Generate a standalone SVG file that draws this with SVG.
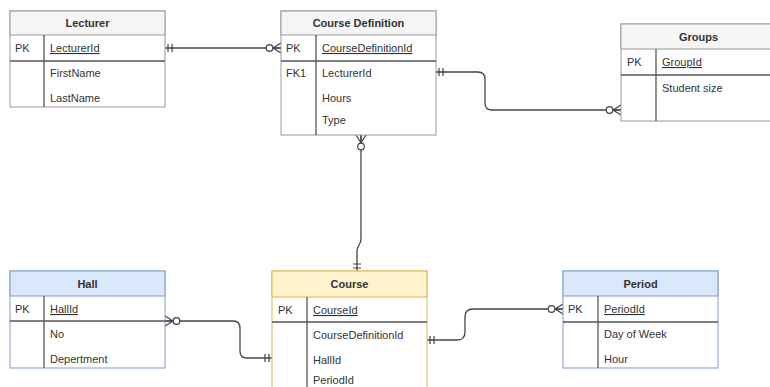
<svg xmlns="http://www.w3.org/2000/svg" width="770" height="387" viewBox="0 0 770 387">
<style>
text{font-family:"Liberation Sans",Arial,sans-serif;font-size:11px;fill:#333}
.h{font-weight:bold;text-anchor:middle}
.u{text-decoration:underline}
.box{fill:#fff;stroke:#999;stroke-width:1}
.hd{fill:#f5f5f5;stroke:#999;stroke-width:1}
.bbox{fill:#fff;stroke:#7f9cc8;stroke-width:1}
.bhd{fill:#dae8fc;stroke:#7f9cc8;stroke-width:1}
.ybox{fill:#fff;stroke:#d6b656;stroke-width:1}
.yhd{fill:#fff2cc;stroke:#d6b656;stroke-width:1}
.sep{stroke:#555;stroke-width:1.3;fill:none}
.div{stroke:#555;stroke-width:1.3;fill:none}
.c{fill:none;stroke:#444;stroke-width:1.3}
</style>
<defs>
<marker id="one" viewBox="0 0 20 12" refX="20" refY="6" markerWidth="20" markerHeight="12" markerUnits="userSpaceOnUse" orient="auto-start-reverse">
<path d="M13,2 V10 M17,2 V10" stroke="#444" stroke-width="1.2" fill="none"/>
</marker>
<marker id="zmany" viewBox="0 0 20 12" refX="20" refY="6" markerWidth="20" markerHeight="12" markerUnits="userSpaceOnUse" orient="auto-start-reverse">
<path d="M12,6 L20,1 M12,6 L20,11 M12,6 H20" stroke="#444" stroke-width="1.2" fill="none"/>
<circle cx="8.5" cy="6" r="3.3" fill="#fff" stroke="#444" stroke-width="1.2"/>
</marker>
</defs>
<g id="connectors">
<path class="c" d="M165,48 H281" marker-start="url(#one)" marker-end="url(#zmany)"/>
<path class="c" d="M436,72 H478 Q485,72 485,79 V103 Q485,110 492,110 H621" marker-start="url(#one)" marker-end="url(#zmany)"/>
<path class="c" d="M361,135 V239 Q361,242 359,245 Q357,248 357,251 V271" marker-start="url(#zmany)" marker-end="url(#one)"/>
<path class="c" d="M165,321 H233 Q240,321 240,328 V351 Q240,358 247,358 H272" marker-start="url(#zmany)" marker-end="url(#one)"/>
<path class="c" d="M427,340 H457 Q465,340 465,332 V317 Q465,309 473,309 H563" marker-start="url(#one)" marker-end="url(#zmany)"/>
</g>
<g id="lecturer">
<rect class="box" x="10" y="11" width="155" height="96"/>
<rect class="hd" x="10" y="11" width="155" height="24"/>
<line class="sep" x1="10" y1="61" x2="165" y2="61"/>
<line class="div" x1="44" y1="35" x2="44" y2="107"/>
<text class="h" x="87.5" y="27">Lecturer</text>
<text x="15" y="52">PK</text>
<text class="u" x="50" y="52">LecturerId</text>
<text x="50" y="77">FirstName</text>
<text x="50" y="102">LastName</text>
</g>
<g id="course-definition">
<rect class="box" x="281" y="11" width="155" height="124"/>
<rect class="hd" x="281" y="11" width="155" height="24"/>
<line class="sep" x1="281" y1="61" x2="436" y2="61"/>
<line class="div" x1="316" y1="35" x2="316" y2="135"/>
<text class="h" x="358.5" y="27">Course Definition</text>
<text x="286" y="52">PK</text>
<text class="u" x="322" y="52">CourseDefinitionId</text>
<text x="286" y="77">FK1</text>
<text x="322" y="77">LecturerId</text>
<text x="322" y="102">Hours</text>
<text x="322" y="124">Type</text>
</g>
<g id="groups">
<rect class="box" x="621" y="24" width="155" height="97"/>
<rect class="hd" x="621" y="24" width="155" height="25"/>
<line class="sep" x1="621" y1="75" x2="776" y2="75"/>
<line class="div" x1="656" y1="49" x2="656" y2="121"/>
<text class="h" x="698.5" y="41">Groups</text>
<text x="627" y="66">PK</text>
<text class="u" x="662" y="66">GroupId</text>
<text x="662" y="92">Student size</text>
</g>
<g id="hall">
<rect class="bbox" x="10" y="271" width="155" height="97"/>
<rect class="bhd" x="10" y="271" width="155" height="25"/>
<line class="sep" x1="10" y1="321" x2="165" y2="321"/>
<line class="div" x1="44" y1="296" x2="44" y2="368"/>
<text class="h" x="87.5" y="288">Hall</text>
<text x="15" y="313">PK</text>
<text class="u" x="50" y="313">HallId</text>
<text x="50" y="338">No</text>
<text x="50" y="363">Depertment</text>
</g>
<g id="course">
<rect class="ybox" x="272" y="271" width="155" height="130"/>
<rect class="yhd" x="272" y="271" width="155" height="26"/>
<line class="sep" x1="272" y1="322" x2="427" y2="322"/>
<line class="div" x1="307" y1="297" x2="307" y2="400"/>
<text class="h" x="349.5" y="288">Course</text>
<text x="278" y="314">PK</text>
<text class="u" x="313" y="314">CourseId</text>
<text x="313" y="339">CourseDefinitionId</text>
<text x="313" y="364">HallId</text>
<text x="313" y="384">PeriodId</text>
</g>
<g id="period">
<rect class="bbox" x="563" y="271" width="155" height="97"/>
<rect class="bhd" x="563" y="271" width="155" height="25"/>
<line class="sep" x1="563" y1="322" x2="718" y2="322"/>
<line class="div" x1="598" y1="296" x2="598" y2="368"/>
<text class="h" x="640.5" y="288">Period</text>
<text x="568" y="313">PK</text>
<text class="u" x="604" y="313">PeriodId</text>
<text x="604" y="338">Day of Week</text>
<text x="604" y="363">Hour</text>
</g>
</svg>
